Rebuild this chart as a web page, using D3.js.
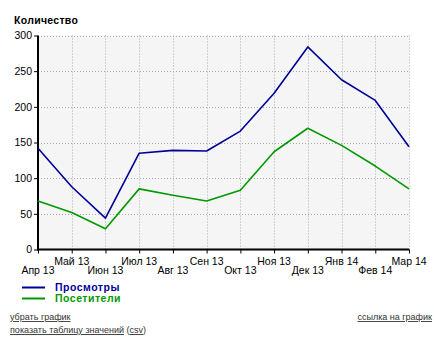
<!DOCTYPE html>
<html>
<head>
<meta charset="utf-8">
<script src="https://cdn.jsdelivr.net/npm/d3@7"></script>
<style>
  html, body { margin: 0; padding: 0; background: #fff; }
  svg { display: block; }
  .lnk { font-family: "Liberation Sans", Arial, sans-serif; font-size: 9px; fill: #333; text-decoration: underline; }
</style>
</head>
<body>
<svg id="chart" width="434" height="343"></svg>
<script>
// Monthly traffic: page views and visitors
const months = ["Апр 13", "Май 13", "Июн 13", "Июл 13", "Авг 13", "Сен 13",
                "Окт 13", "Ноя 13", "Дек 13", "Янв 14", "Фев 14", "Мар 14"];
const views    = [142, 88, 44, 135, 139, 138, 166, 219, 284, 238, 209, 144];
const visitors = [68, 52, 29, 85, 76, 68, 83, 137, 170, 146, 117, 85];
const yTicks = [0, 50, 100, 150, 200, 250, 300];
const seriesNames = ["Просмотры", "Посетители"];
const seriesColors = ["#000099", "#009900"];

(function () {
const svg = d3.select("#chart");
const font = '"Liberation Sans", Arial, sans-serif';
const pLeft = 38, pRight = 409, pTop = 35.5, pBottom = 249.5;

const x = d3.scalePoint().domain(months).range([pLeft, pRight]);
const y = d3.scaleLinear().domain([0, 300]).range([pBottom, pTop]);

// plot background
svg.append("rect")
  .attr("x", pLeft).attr("y", pTop)
  .attr("width", pRight - pLeft).attr("height", pBottom - pTop)
  .attr("fill", "#f5f5f5");

// dotted grid
const grid = svg.append("g").attr("stroke", "#aaa").attr("stroke-dasharray", "1,2").attr("stroke-width", 1);
grid.selectAll(".gy").data(yTicks.filter(d => d > 0)).join("line")
  .attr("x1", pLeft).attr("x2", pRight)
  .attr("y1", d => Math.round(y(d)) + 0.5).attr("y2", d => Math.round(y(d)) + 0.5);
grid.selectAll(".gx").data(months.slice(1)).join("line")
  .attr("x1", d => Math.round(x(d)) + 0.5).attr("x2", d => Math.round(x(d)) + 0.5)
  .attr("y1", pTop).attr("y2", pBottom);

// y axis
const yAxis = svg.append("g")
  .attr("transform", `translate(${pLeft},0)`)
  .call(d3.axisLeft(y).tickValues(yTicks).tickSize(4).tickPadding(2));
yAxis.select(".domain").remove();
yAxis.selectAll("text").attr("font-family", font).attr("font-size", 10.5).attr("fill", "#000");
yAxis.selectAll("line").attr("stroke", "#000");

// x axis ticks and two-row labels
const xAxis = svg.append("g")
  .attr("transform", `translate(0,${pBottom})`)
  .call(d3.axisBottom(x).tickSize(4).tickFormat(""));
xAxis.select(".domain").remove();
xAxis.selectAll("line").attr("stroke", "#000");
svg.append("g").selectAll("text").data(months).join("text")
  .attr("x", d => x(d))
  .attr("y", (d, i) => i % 2 === 0 ? 274 : 264.5)
  .attr("text-anchor", "middle")
  .attr("font-family", font).attr("font-size", 10.5)
  .text(d => d);

// axis lines
svg.append("line").attr("x1", pLeft).attr("x2", pLeft).attr("y1", pTop).attr("y2", pBottom + 1)
  .attr("stroke", "#000").attr("stroke-width", 2);
svg.append("line").attr("x1", pLeft - 1).attr("x2", pRight).attr("y1", pBottom).attr("y2", pBottom)
  .attr("stroke", "#000").attr("stroke-width", 2);

// series lines
const line = d3.line().x((d, i) => x(months[i])).y(d => y(d));
[views, visitors].forEach((vals, k) => {
  svg.append("path").datum(vals)
    .attr("d", line)
    .attr("fill", "none")
    .attr("stroke", seriesColors[k])
    .attr("stroke-width", 1.6)
    .attr("stroke-linejoin", "round");
});

// title
svg.append("text").attr("x", 14).attr("y", 24)
  .attr("font-family", font).attr("font-size", 10.5).attr("font-weight", "bold")
  .attr("letter-spacing", 0.3)
  .text("Количество");

// legend
seriesNames.forEach((name, k) => {
  const ly = 287.5 + k * 11;
  svg.append("line").attr("x1", 22).attr("x2", 45).attr("y1", ly).attr("y2", ly)
    .attr("stroke", seriesColors[k]).attr("stroke-width", 2);
  svg.append("text").attr("x", 55).attr("y", ly + 3.5)
    .attr("font-family", font).attr("font-size", 10.5).attr("font-weight", "bold")
    .attr("letter-spacing", 0.5)
    .attr("fill", seriesColors[k]).text(name);
});

// links
svg.append("text").attr("class", "lnk").attr("x", 10).attr("y", 320).text("убрать график");
svg.append("text").attr("class", "lnk").attr("x", 432).attr("y", 320).attr("text-anchor", "end").text("ссылка на график");
const t = svg.append("text").attr("x", 10).attr("y", 333).attr("font-family", font).attr("font-size", 9).attr("fill", "#333");
t.append("tspan").attr("text-decoration", "underline").text("показать таблицу значений");
t.append("tspan").text(" (");
t.append("tspan").attr("text-decoration", "underline").text("csv");
t.append("tspan").text(")");
})();
</script>
</body>
</html>
